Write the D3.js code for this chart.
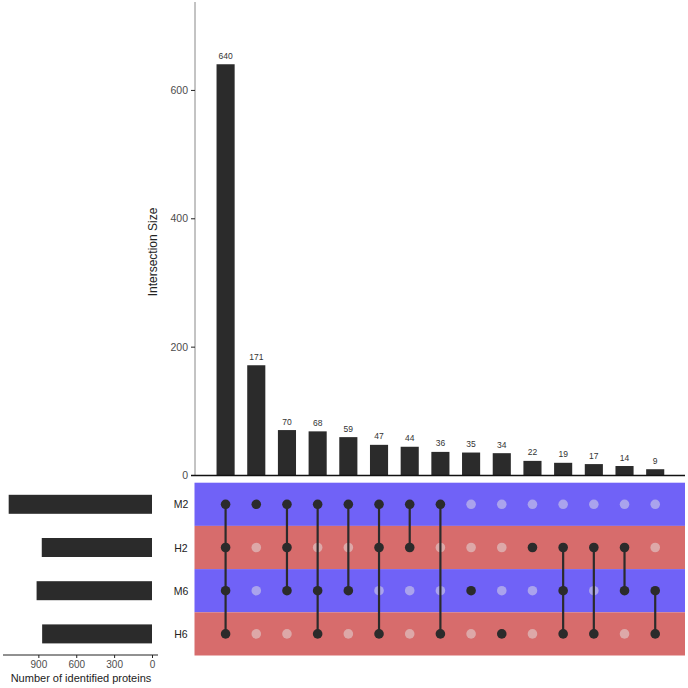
<!DOCTYPE html>
<html><head><meta charset="utf-8">
<script src="https://cdn.jsdelivr.net/npm/d3@7"></script>
<style>body{margin:0;background:#fff;font-family:"Liberation Sans",Arial,sans-serif;}</style>
</head><body>
<svg id="chart" width="688" height="688"></svg>
<script>
const sets = ["M2", "H2", "M6", "H6"];
const setSizes = [1135, 873, 914, 870];
const intersectionSizes = [640, 171, 70, 68, 59, 47, 44, 36, 35, 34, 22, 19, 17, 14, 9];
const intersectionSets = [
  ["M2","H2","M6","H6"], ["M2"], ["M2","H2","M6"], ["M2","M6","H6"], ["M2","M6"],
  ["M2","H2","H6"], ["M2","H2"], ["M2","H6"], ["M6"], ["H6"], ["H2"],
  ["H2","M6","H6"], ["H2","H6"], ["H2","M6"], ["M6","H6"]
];
const yTicks = [0, 200, 400, 600];
const setTicks = [0, 300, 600, 900];
const rowColors = ["#7062f7", "#d76c6c", "#7062f7", "#d76c6c"];

const svg = d3.select("#chart");
const x = d3.scaleBand().domain(d3.range(intersectionSizes.length)).range([210.4, 670.4]).paddingInner(0.41).paddingOuter(0.2);
const y = d3.scaleLinear().domain([0, 737]).range([475, 2]);
const rowY = d3.scaleBand().domain(sets).range([482.7, 655.5]);
const sx = d3.scaleLinear().domain([0, 1180]).range([152, 3]);

// Intersection bars
svg.append("g").selectAll("rect").data(intersectionSizes).join("rect")
  .attr("x", (d,i)=>x(i)).attr("width", x.bandwidth())
  .attr("y", d=>y(d)).attr("height", d=>y(0)-y(d))
  .attr("fill", "#2b2b2b");
svg.append("g").selectAll("text").data(intersectionSizes).join("text")
  .attr("x", (d,i)=>x(i)+x.bandwidth()/2).attr("y", d=>y(d)-5.5)
  .attr("text-anchor","middle").attr("font-size", 8.5).attr("fill","#333").text(d=>d);

// y axis
const yAxis = svg.append("g").attr("transform","translate(195,0)")
  .call(d3.axisLeft(y).tickValues(yTicks).tickSize(4).tickPadding(3));
yAxis.select(".domain").attr("stroke","#888").attr("d","M0,2V475");
yAxis.selectAll(".tick line").attr("stroke","#222");
yAxis.selectAll(".tick text").attr("font-size",10.5).attr("fill","#4d4d4d").attr("font-family","Liberation Sans, Arial, sans-serif");
svg.append("line").attr("x1",191).attr("x2",685).attr("y1",y(0)+0.5).attr("y2",y(0)+0.5).attr("stroke","#111").attr("stroke-width",1.4);
svg.append("text").attr("transform","translate(157,252) rotate(-90)").attr("text-anchor","middle")
  .attr("font-size",12).attr("fill","#222").text("Intersection Size");

// Matrix background
svg.append("g").selectAll("rect").data(sets).join("rect")
  .attr("x",194.5).attr("width",685-194.5).attr("y",d=>rowY(d)).attr("height",rowY.bandwidth())
  .attr("fill",(d,i)=>rowColors[i]);

// dots
const cells = [];
intersectionSets.forEach((s,i)=>sets.forEach(st=>cells.push({i, st, on: s.includes(st)})));
svg.append("g").selectAll("circle").data(cells.filter(c=>!c.on)).join("circle")
  .attr("cx",c=>x(c.i)+x.bandwidth()/2).attr("cy",c=>rowY(c.st)+rowY.bandwidth()/2)
  .attr("r",4.8).attr("fill","#e3e3e3").attr("fill-opacity",0.5);
svg.append("g").selectAll("line").data(intersectionSets.filter(s=>s.length>1)).join("line")
  .each(function(s){
    const i = intersectionSets.indexOf(s);
    const ys = s.map(st=>rowY(st)+rowY.bandwidth()/2);
    d3.select(this).attr("x1",x(i)+x.bandwidth()/2).attr("x2",x(i)+x.bandwidth()/2)
      .attr("y1",d3.min(ys)).attr("y2",d3.max(ys));
  }).attr("stroke","#2b2b2b").attr("stroke-width",2.2);
svg.append("g").selectAll("circle").data(cells.filter(c=>c.on)).join("circle")
  .attr("cx",c=>x(c.i)+x.bandwidth()/2).attr("cy",c=>rowY(c.st)+rowY.bandwidth()/2)
  .attr("r",4.8).attr("fill","#2b2b2b");

// set labels
svg.append("g").selectAll("text").data(sets).join("text")
  .attr("x",181).attr("y",d=>rowY(d)+rowY.bandwidth()/2+4).attr("text-anchor","middle")
  .attr("font-size",10.5).attr("fill","#222").text(d=>d);

// set size bars
svg.append("g").selectAll("rect").data(setSizes).join("rect")
  .attr("x",d=>sx(d)).attr("width",d=>sx(0)-sx(d))
  .attr("y",(d,i)=>rowY(sets[i])+rowY.bandwidth()/2-9.5).attr("height",19)
  .attr("fill","#2b2b2b");
const sAxis = svg.append("g").attr("transform","translate(0,655)")
  .call(d3.axisBottom(sx).tickValues(setTicks).tickSize(3).tickPadding(3));
sAxis.select(".domain").attr("stroke","#222").attr("d","M3,0H158");
sAxis.selectAll(".tick line").attr("stroke","#222");
sAxis.selectAll(".tick text").attr("font-size",10).attr("fill","#4d4d4d").attr("font-family","Liberation Sans, Arial, sans-serif");
svg.append("text").attr("x",81).attr("y",682).attr("text-anchor","middle")
  .attr("font-size",11).attr("fill","#222").text("Number of identified proteins");
</script>
</body></html>
